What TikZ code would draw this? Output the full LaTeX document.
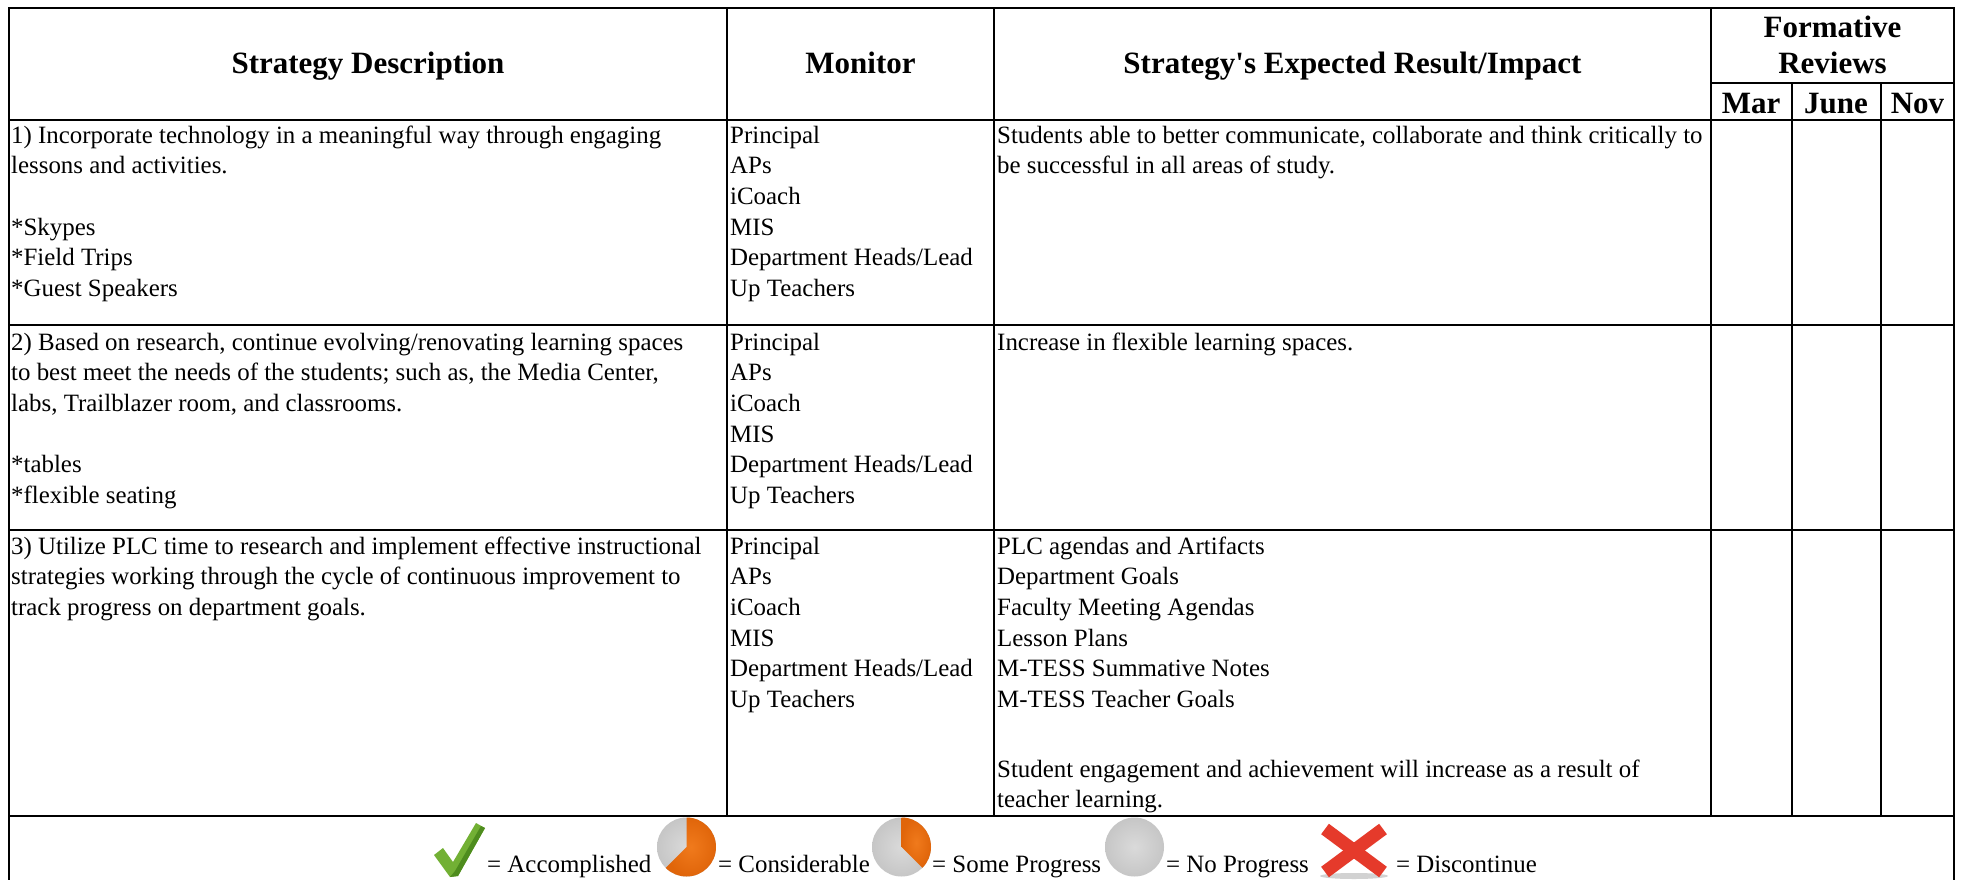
\documentclass[tikz,border=0pt]{standalone}
\usepackage{fontspec}
\setmainfont{Liberation Serif}[Ligatures=TeXOff]
\newcommand\bodyf{\fontsize{24.9bp}{30.7bp}\selectfont}
\newcommand\headf{\fontsize{31bp}{36bp}\selectfont\bfseries}
\definecolor{chkgreen}{HTML}{72B034}
\definecolor{chkdark}{HTML}{4E8C1E}
\definecolor{piegrey}{HTML}{C6C6C6}
\definecolor{pielight}{HTML}{DADADA}
\definecolor{pieorange}{HTML}{F07A1C}
\definecolor{piedeep}{HTML}{E0650A}
\definecolor{xred}{HTML}{E53A2B}
\begin{document}
\begin{tikzpicture}[x=1bp,y=-1bp,
  body/.style={anchor=base west, inner sep=0pt, font=\bodyf},
  head/.style={anchor=base, inner sep=0pt, font=\headf},
  rule/.style={line width=2bp, black},
  pie/.style={inner color=pielight, outer color=piegrey},
  wedge/.style={inner color=pieorange, outer color=piedeep},
]
\useasboundingbox (0,0) rectangle (1963,880);
\fill[white] (0,0) rectangle (1963,880);

% ---- table rules
\draw[rule] (9,880) -- (9,8) -- (1954,8) -- (1954,880);
\draw[rule] (727,8) -- (727,816);
\draw[rule] (994,8) -- (994,816);
\draw[rule] (1711,8) -- (1711,816);
\draw[rule] (1711,83) -- (1954,83);
\draw[rule] (1791.5,83) -- (1791.5,816);
\draw[rule] (1881,83) -- (1881,816);
\foreach \yy in {120,325,530,816} \draw[rule] (9,\yy) -- (1954,\yy);

% ---- header
\node[head] (hs) at (368,73.5) {Strategy Description};
\node[head] (hm) at (860.5,73.5) {Monitor};
\node[head] (he) at (1352.5,73.5) {Strategy's Expected Result/Impact};
\node[head] (hf1) at (1832.5,37) {Formative};
\node[head] (hf2) at (1832.5,73) {Reviews};
\node[head] (hmar) at (1751,113) {Mar};
\node[head] (hjun) at (1836,113) {June};
\node[head] (hnov) at (1917.5,113) {Nov};

% ---- row 1
\node[body] (s1a) at (11,143) {1) Incorporate technology in a meaningful way through engaging};
\node[body] (s1b) at (11,173.7) {lessons and activities.};
\node[body] (s1c) at (11,235.1) {*Skypes};
\node[body] (s1d) at (11,265.8) {*Field Trips};
\node[body] (s1e) at (11,296.5) {*Guest Speakers};
\node[body] (m1a) at (730,143) {Principal};
\node[body] (m1b) at (730,173.7) {APs};
\node[body] (m1c) at (730,204.4) {iCoach};
\node[body] (m1d) at (730,235.1) {MIS};
\node[body] (m1e) at (730,265.8) {Department Heads/Lead};
\node[body] (m1f) at (730,296.5) {Up Teachers};
\node[body] (e1a) at (997,143) {Students able to better communicate, collaborate and think critically to};
\node[body] (e1b) at (997,173.7) {be successful in all areas of study.};

% ---- row 2
\node[body] (s2a) at (11,350) {2) Based on research, continue evolving/renovating learning spaces};
\node[body] (s2b) at (11,380.7) {to best meet the needs of the students; such as, the Media Center,};
\node[body] (s2c) at (11,411.4) {labs, Trailblazer room, and classrooms.};
\node[body] (s2d) at (11,472.8) {*tables};
\node[body] (s2e) at (11,503.5) {*flexible seating};
\node[body] (m2a) at (730,350) {Principal};
\node[body] (m2b) at (730,380.7) {APs};
\node[body] (m2c) at (730,411.4) {iCoach};
\node[body] (m2d) at (730,442.1) {MIS};
\node[body] (m2e) at (730,472.8) {Department Heads/Lead};
\node[body] (m2f) at (730,503.5) {Up Teachers};
\node[body] (e2a) at (997,350) {Increase in flexible learning spaces.};

% ---- row 3
\node[body] (s3a) at (11,554) {3) Utilize PLC time to research and implement effective instructional};
\node[body] (s3b) at (11,584.7) {strategies working through the cycle of continuous improvement to};
\node[body] (s3c) at (11,615.4) {track progress on department goals.};
\node[body] (m3a) at (730,554) {Principal};
\node[body] (m3b) at (730,584.7) {APs};
\node[body] (m3c) at (730,615.4) {iCoach};
\node[body] (m3d) at (730,646.1) {MIS};
\node[body] (m3e) at (730,676.8) {Department Heads/Lead};
\node[body] (m3f) at (730,707.5) {Up Teachers};
\node[body] (e3a) at (997,554) {PLC agendas and Artifacts};
\node[body] (e3b) at (997,584.7) {Department Goals};
\node[body] (e3c) at (997,615.4) {Faculty Meeting Agendas};
\node[body] (e3d) at (997,646.1) {Lesson Plans};
\node[body] (e3e) at (997,676.8) {M-TESS Summative Notes};
\node[body] (e3f) at (997,707.5) {M-TESS Teacher Goals};
\node[body] (e3g) at (997,777) {Student engagement and achievement will increase as a result of};
\node[body] (e3h) at (997,807.5) {teacher learning.};

% ---- legend
% check mark
\fill[chkgreen] (434,855) -- (443,848) -- (453,862) -- (476,823) -- (485,828) -- (458,876) -- (450,877) -- cycle;
\fill[chkdark] (450,877) -- (458,876) -- (485,828) -- (481,826) -- (455,871) -- cycle;
\node[body] (l1) at (487,872) {= Accomplished};
% considerable
\shade[pie] (686.5,847) circle[radius=29.5];
\shade[wedge] (686.5,847) -- ++(0,-29.5) arc[start angle=-90, end angle=135, radius=29.5] -- cycle;
\node[body] (l2) at (718,872) {= Considerable};
% some progress
\shade[pie] (901.5,847) circle[radius=29.5];
\shade[wedge] (901.5,847) -- ++(0,-29.5) arc[start angle=-90, end angle=45, radius=29.5] -- cycle;
\node[body] (l3) at (932,872) {= Some Progress};
% no progress
\shade[pie] (1134.5,847) circle[radius=29.5];
\node[body] (l4) at (1166,872) {= No Progress};
% discontinue
\fill[gray!35] (1354,876) ellipse[x radius=34, y radius=3];
\draw[xred, line width=13bp] (1325,829) -- (1383,872);
\draw[xred, line width=13bp] (1383,829) -- (1325,872);
\node[body] (l5) at (1396,872) {= Discontinue};
\end{tikzpicture}
\end{document}
